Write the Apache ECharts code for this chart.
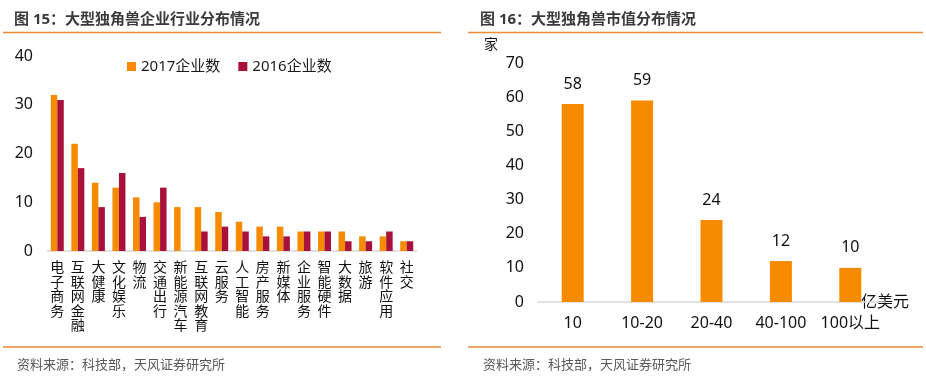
<!DOCTYPE html>
<html><head><meta charset="utf-8">
<script src="https://cdn.jsdelivr.net/npm/echarts@6/dist/echarts.min.js"></script>
<style>html,body{margin:0;padding:0;background:#fff}#c{width:926px;height:378px}</style>
</head><body><div id="c"></div>
<script>
// Left chart: industry distribution
const industries = ['电子商务','互联网金融','大健康','文化娱乐','物流','交通出行','新能源汽车','互联网教育','云服务','人工智能','房产服务','新媒体','企业服务','智能硬件','大数据','旅游','软件应用','社交'];
const count2017 = [32,22,14,13,11,10,9,9,8,6,5,5,4,4,4,3,3,2];
const count2016 = [31,17,9,16,7,13,0,4,5,4,3,3,4,4,2,2,4,2];
const seriesNames = ['2017企业数','2016企业数'];
// Right chart: valuation distribution
const valueBuckets = ['10','10-20','20-40','40-100','100以上'];
const bucketCounts = [58,59,24,12,10];

const titles = ['图 15：大型独角兽企业行业分布情况','图 16：大型独角兽市值分布情况'];
const sourceText = '资料来源：科技部，天风证券研究所';

const FONT = "'Noto Sans','Noto Sans CJK SC',sans-serif";
const ORANGE = '#F68B00';
const RED = '#A8113A';
const LINE = '#EE8A38';
const AXIS = '#D9D9D9';

const chart = echarts.init(document.getElementById('c'));
chart.setOption({
  animation: false,
  textStyle: {fontFamily: FONT},
  title: [
    {text: titles[0], left: 9, top: 7, textStyle: {fontSize: 15, fontWeight: 'bold', color: '#3A3A3A', fontFamily: FONT}},
    {text: titles[1], left: 475, top: 7, textStyle: {fontSize: 15, fontWeight: 'bold', color: '#3A3A3A', fontFamily: FONT}},
    {text: sourceText, left: 12, top: 354, textStyle: {fontSize: 13, fontWeight: 'normal', color: '#595959', fontFamily: FONT}},
    {text: sourceText, left: 478, top: 354, textStyle: {fontSize: 13, fontWeight: 'normal', color: '#595959', fontFamily: FONT}}
  ],
  graphic: [
    {type: 'line', shape: {x1: 3, y1: 32.5, x2: 441, y2: 32.5}, style: {stroke: LINE, lineWidth: 1.5}},
    {type: 'line', shape: {x1: 468, y1: 32.5, x2: 923, y2: 32.5}, style: {stroke: LINE, lineWidth: 1.5}},
    {type: 'line', shape: {x1: 3, y1: 347, x2: 441, y2: 347}, style: {stroke: LINE, lineWidth: 1.5}},
    {type: 'line', shape: {x1: 468, y1: 347, x2: 923, y2: 347}, style: {stroke: LINE, lineWidth: 1.5}}
  ],
  legend: {
    left: 122, top: 54, itemWidth: 9, itemHeight: 9, itemGap: 18,
    icon: 'rect',
    data: seriesNames,
    textStyle: {fontSize: 15, color: '#1A1A1A', fontFamily: FONT}
  },
  grid: [
    {left: 47, top: 56, width: 370, height: 195},
    {left: 538, top: 63, width: 347, height: 239}
  ],
  xAxis: [
    {
      type: 'category', gridIndex: 0, data: industries,
      axisLine: {lineStyle: {color: AXIS, width: 1.5}},
      axisTick: {show: false},
      axisLabel: {
        interval: 0, margin: 10, fontSize: 14, lineHeight: 14.5, color: '#111',
        verticalAlign: 'top',
        formatter: v => v.split('').join('\n')
      }
    },
    {
      type: 'category', gridIndex: 1, data: valueBuckets,
      axisLine: {lineStyle: {color: AXIS, width: 1.5}},
      axisTick: {show: false},
      axisLabel: {interval: 0, margin: 13, fontSize: 16, color: '#111'},
      name: '亿美元', nameLocation: 'end', nameGap: -24,
      nameTextStyle: {fontSize: 16, color: '#111', align: 'left', verticalAlign: 'middle', padding: [10, 0, 0, 0]}
    }
  ],
  yAxis: [
    {
      type: 'value', gridIndex: 0, min: 0, max: 40, interval: 10,
      axisLine: {show: false}, axisTick: {show: false}, splitLine: {show: false},
      axisLabel: {margin: 14, fontSize: 16, color: '#111'}
    },
    {
      type: 'value', gridIndex: 1, min: 0, max: 70, interval: 10,
      axisLine: {show: false}, axisTick: {show: false}, splitLine: {show: false},
      axisLabel: {margin: 14, fontSize: 16, color: '#111'},
      name: '家', nameLocation: 'end', nameGap: 18,
      nameTextStyle: {fontSize: 14, color: '#111', align: 'right', verticalAlign: 'middle', padding: [0, 40, 0, 0]}
    }
  ],
  series: [
    {name: seriesNames[0], type: 'bar', xAxisIndex: 0, yAxisIndex: 0, data: count2017,
     barWidth: 6.5, barGap: '0%', itemStyle: {color: ORANGE}},
    {name: seriesNames[1], type: 'bar', xAxisIndex: 0, yAxisIndex: 0, data: count2016,
     barWidth: 6.5, barGap: '0%', itemStyle: {color: RED}},
    {name: 'valuation', type: 'bar', xAxisIndex: 1, yAxisIndex: 1, data: bucketCounts,
     barWidth: 22, itemStyle: {color: ORANGE},
     label: {show: true, position: 'top', distance: 12, fontSize: 16, color: '#111'}}
  ]
});
</script>
</body></html>
